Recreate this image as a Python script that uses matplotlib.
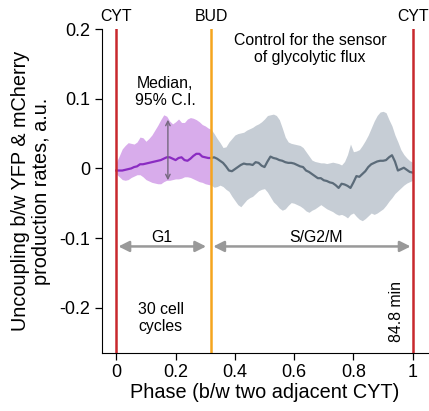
import matplotlib
matplotlib.use('Agg')
import matplotlib.pyplot as plt
import numpy as np

plt.rcParams['font.family'] = ['Liberation Sans', 'DejaVu Sans']
plt.rcParams['axes.unicode_minus'] = False

# phase grid, 0.01 steps between two adjacent cytokinesis events
phase = np.round(np.arange(0, 101) / 100.0, 2)

median = [
    -0.003, -0.003, -0.003, -0.002, -0.001, 0.000, 0.002, 0.003, 0.006, 0.006,
    0.007, 0.008, 0.009, 0.010, 0.011, 0.012, 0.014, 0.016, 0.016, 0.014,
    0.012, 0.015, 0.016, 0.012, 0.011, 0.014, 0.018, 0.021, 0.021, 0.017,
    0.016, 0.015, 0.015, 0.016, 0.014, 0.011, 0.008, 0.003, -0.003, -0.004,
    -0.001, 0.002, 0.005, 0.007, 0.006, 0.006, 0.005, 0.009, 0.008, 0.004,
    0.002, 0.010, 0.017, 0.015, 0.014, 0.012, 0.011, 0.009, 0.008, 0.008,
    0.007, 0.005, 0.003, 0.002, -0.003, -0.005, -0.008, -0.011, -0.014, -0.014,
    -0.017, -0.018, -0.020, -0.021, -0.024, -0.028, -0.022, -0.023, -0.025, -0.028,
    -0.020, -0.011, -0.012, -0.008, -0.004, 0.002, 0.006, 0.008, 0.010, 0.011,
    0.011, 0.012, 0.016, 0.019, 0.010, -0.003, -0.001, 0.001, -0.002, -0.005,
    -0.006]

ci_upper = [
    0.009, 0.018, 0.028, 0.033, 0.037, 0.036, 0.035, 0.038, 0.045, 0.044,
    0.039, 0.043, 0.048, 0.055, 0.062, 0.070, 0.077, 0.075, 0.068, 0.064,
    0.067, 0.071, 0.066, 0.066, 0.071, 0.073, 0.072, 0.070, 0.067, 0.063,
    0.061, 0.058, 0.056, 0.050, 0.043, 0.037, 0.030, 0.031, 0.038, 0.043,
    0.048, 0.050, 0.051, 0.052, 0.055, 0.057, 0.059, 0.062, 0.064, 0.067,
    0.071, 0.076, 0.077, 0.078, 0.076, 0.070, 0.058, 0.045, 0.038, 0.036,
    0.035, 0.034, 0.033, 0.030, 0.024, 0.018, 0.012, 0.010, 0.009, 0.008,
    0.008, 0.007, 0.008, 0.009, 0.008, 0.007, 0.005, 0.010, 0.020, 0.035,
    0.024, 0.025, 0.027, 0.033, 0.040, 0.048, 0.058, 0.068, 0.076, 0.081,
    0.082, 0.080, 0.070, 0.061, 0.048, 0.038, 0.027, 0.020, 0.015, 0.011,
    0.009]

ci_lower = [
    -0.008, -0.012, -0.016, -0.017, -0.016, -0.013, -0.011, -0.009, -0.009, -0.012,
    -0.016, -0.018, -0.020, -0.021, -0.022, -0.022, -0.019, -0.017, -0.017, -0.016,
    -0.015, -0.015, -0.014, -0.012, -0.012, -0.013, -0.015, -0.017, -0.019, -0.020,
    -0.022, -0.023, -0.024, -0.027, -0.026, -0.024, -0.026, -0.030, -0.033, -0.040,
    -0.046, -0.052, -0.055, -0.050, -0.045, -0.042, -0.040, -0.036, -0.032, -0.030,
    -0.029, -0.034, -0.041, -0.048, -0.052, -0.057, -0.060, -0.058, -0.053, -0.049,
    -0.050, -0.052, -0.054, -0.057, -0.061, -0.063, -0.060, -0.058, -0.055, -0.052,
    -0.055, -0.058, -0.060, -0.062, -0.065, -0.067, -0.066, -0.068, -0.071, -0.066,
    -0.064, -0.069, -0.073, -0.075, -0.072, -0.068, -0.064, -0.066, -0.064, -0.061,
    -0.058, -0.053, -0.047, -0.042, -0.036, -0.032, -0.028, -0.024, -0.021, -0.019,
    -0.017]

bud_phase = 0.32
n_cycles = 30
cycle_min = 84.8

x_ticks = [0, 0.2, 0.4, 0.6, 0.8, 1]
x_tick_labels = ['0', '0.2', '0.4', '0.6', '0.8', '1']
y_ticks = [-0.2, -0.1, 0, 0.1, 0.2]
y_tick_labels = ['-0.2', '-0.1', '0', '0.1', '0.2']

median = np.array(median)
ci_upper = np.array(ci_upper)
ci_lower = np.array(ci_lower)
g1 = phase <= bud_phase
sg2m = phase >= bud_phase

fig = plt.figure(figsize=(4.29, 4.11), dpi=100)
ax = fig.add_axes([0.2366, 0.1411, 0.760, 0.788])

# confidence band and median, G1 in purple, rest in grey
ax.fill_between(phase[g1], ci_lower[g1], ci_upper[g1], color='#d8aceb', lw=0)
ax.fill_between(phase[sg2m], ci_lower[sg2m], ci_upper[sg2m], color='#c6cdd5', lw=0)
ax.plot(phase[g1], median[g1], color='#8a2bc2', lw=1.6)
ax.plot(phase[sg2m], median[sg2m], color='#5b6b79', lw=1.6)

# cell cycle landmarks
ax.axvline(0, color='#c8282d', lw=1.8)
ax.axvline(1, color='#c8282d', lw=1.8)
ax.axvline(bud_phase, color='#f5a51e', lw=1.8)
for xv, lab in [(0, 'CYT'), (bud_phase, 'BUD'), (1, 'CYT')]:
    ax.annotate(lab, xy=(xv, 1), xycoords=('data', 'axes fraction'),
                xytext=(0, 4), textcoords='offset points',
                ha='center', va='bottom', fontsize=11.4)

# phase arrows
arrow_kw = dict(arrowstyle='<|-|>', color='#999999', lw=1.8,
                mutation_scale=16, shrinkA=0, shrinkB=0)
ax.annotate('', xy=(0.007, -0.112), xytext=(0.303, -0.112), arrowprops=arrow_kw)
ax.annotate('', xy=(0.327, -0.112), xytext=(0.993, -0.112), arrowprops=arrow_kw)
ax.text(0.153, -0.099, 'G1', ha='center', va='center', fontsize=11.4)
ax.text(0.674, -0.099, 'S/G2/M', ha='center', va='center', fontsize=11.4)

# CI range marker
ax.annotate('', xy=(0.174, 0.070), xytext=(0.174, -0.017),
            arrowprops=dict(arrowstyle='<->', color='#75687f', lw=1.0,
                            mutation_scale=8, shrinkA=0, shrinkB=0))
ax.text(0.165, 0.110, 'Median,\n95% C.I.', ha='center', va='center',
        fontsize=11.4, linespacing=1.15)
ax.text(0.653, 0.171, 'Control for the sensor\nof glycolytic flux',
        ha='center', va='center', fontsize=11.4, linespacing=1.15)
ax.text(0.074, -0.215, '%d cell\ncycles' % n_cycles, ha='left', va='center',
        fontsize=11.4, linespacing=1.15)
ax.text(0.946, -0.249, '%.1f min' % cycle_min, ha='center', va='bottom',
        rotation=90, fontsize=11.4)

ax.set_xlim(-0.05, 1.05)
ax.set_ylim(-0.265, 0.2)
ax.set_xticks(x_ticks)
ax.set_xticklabels(x_tick_labels)
ax.set_yticks(y_ticks)
ax.set_yticklabels(y_tick_labels)
ax.tick_params(labelsize=13, length=5, width=0.9, pad=3)
for side in ['top', 'right']:
    ax.spines[side].set_visible(False)
ax.set_xlabel('Phase (b/w two adjacent CYT)', fontsize=14.3, labelpad=1)
ax.set_ylabel('Uncoupling b/w YFP & mCherry\nproduction rates, a.u.', fontsize=14.3,
              labelpad=6, linespacing=1.15)

fig.savefig('out.png', dpi=100)
